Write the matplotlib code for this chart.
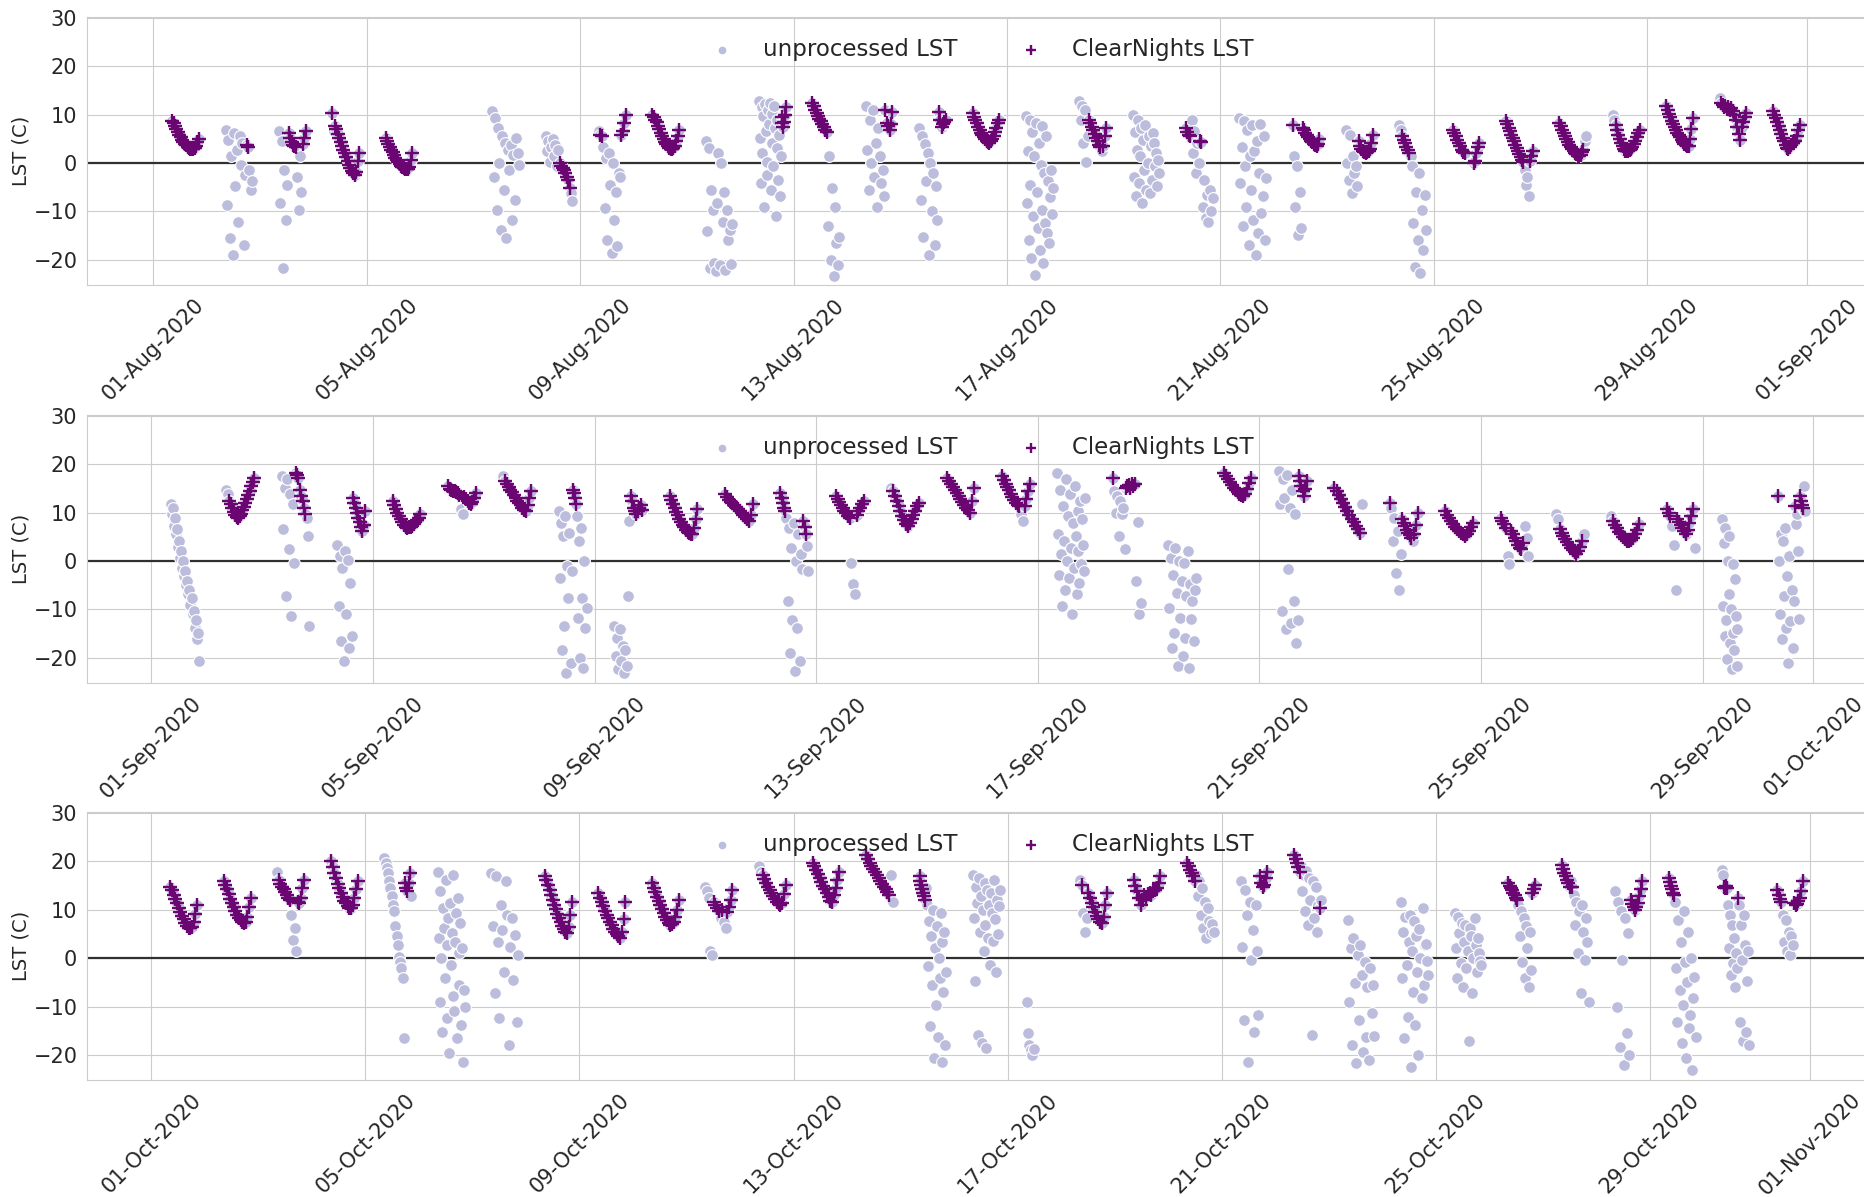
import numpy as np
import pandas as pd
import matplotlib
matplotlib.use('Agg')
import matplotlib.pyplot as plt
import matplotlib.dates as mdates
import seaborn as sns

# nightly LST samples (C), one list per night, spread over the night (08:30 -> 20:30)
# clear = index ranges of samples kept by the ClearNights filter
N = None

aug_days = [1, 2, 3, 4, 5, 7, 8, 9, 10, 11, 12, 13, 14, 15, 16, 17, 18, 19, 20, 21,
            22, 23, 24, 25, 26, 27, 28, 29, 30, 31]
aug_lst = [
    [8.8, 8.2, 7.6, 7.0, 6.4, 5.8, 5.3, 4.8, 4.4, 4.0, 3.7, 3.4, 3.2, 3.0, 2.9, 3.0, 3.1, 3.6, 4.3, 5.0],
    [6.9, -8.6, 4.8, -15.5, 1.4, -19.0, 6.2, -4.8, 2.8, -12.1, 5.5, -0.3, 4.1, -16.9, -2.4, 3.8, 3.4, -1.4, -5.5, -3.8],
    [6.6, -8.3, 4.5, -21.7, -1.4, -11.7, -4.5, 6.2, 5.2, 4.4, 3.8, 3.5, 3.4, -2.8, -9.7, 1.4, -5.9, 4.0, 5.2, 6.6],
    [10.3, 6.6, 7.6, 7.0, 6.0, 5.2, 4.4, 3.6, 2.8, 2.0, 1.2, 0.4, -0.4, -1.0, -1.6, -2.1, -2.4, -1.8, 0.5, 2.0],
    [5.2, 4.6, 4.0, 3.4, 2.8, 2.2, 1.6, 1.1, 0.6, 0.2, -0.2, -0.5, -0.8, -1.0, -1.2, -1.3, -1.2, -0.8, 0.6, 2.0],
    [10.7, -2.8, 9.3, -9.7, 7.2, 0.0, -13.8, 5.5, -5.5, 4.1, -15.5, 2.8, -1.4, 3.8, -11.7, 1.7, -7.6, 5.2, 2.1, -0.3],
    [5.5, 2.4, 4.5, 0.3, 3.4, 5.0, 1.4, 3.8, -0.7, 2.8, 0.0, -0.5, -1.0, -1.4, -2.1, -2.8, -3.4, -5.2, -6.2, -7.9],
    [6.6, 5.9, 5.5, 3.4, -9.3, 1.0, -15.9, 2.1, -4.5, -18.6, 0.0, -11.7, -5.9, -17.2, -2.1, -2.8, 5.9, 6.6, 8.3, 10.0],
    [10.0, 9.6, 9.0, 8.4, 7.7, 7.0, 6.3, 5.6, 5.0, 4.4, 3.9, 3.5, 3.2, 3.0, 2.9, 3.1, 3.5, 4.5, 5.7, 6.9],
    [4.5, -14.1, 3.1, -21.7, -5.5, -9.7, -20.7, -22.4, -8.3, 2.1, -21.0, 0.0, -12.1, -5.9, -22.0, -9.7, -15.9, -13.8,
     -20.9, -12.6],
    [12.8, 5.2, -4.1, 11.5, 2.1, 9.7, -9.0, 12.2, 6.6, 0.3, -2.4, 11.0, 8.0, 12.5, -5.5, 4.1, 10.2, -0.5, 11.8, 7.2,
     -11.0, 3.1, 9.0, -3.4, 5.9, -6.9, 1.4, 9.5, 8.2, 7.5, 8.5, 10.0, 11.5],
    [12.4, 11.7, 11.0, 10.3, 9.7, 9.2, 8.6, 8.0, 7.4, 6.9, 6.4, -13.1, 1.4, -20.0, -5.2, -23.4, -9.0, -16.6, -21.0, -15.2],
    [11.7, 2.8, -5.5, 9.0, 0.0, 11.0, -2.8, 4.2, -9.0, 7.2, 1.4, -4.1, -1.4, -6.9, 11.0, 8.3, 7.6, 6.9, 8.0, 10.5],
    [7.2, -7.6, 5.5, -15.2, 4.0, -3.8, 2.1, -19.0, 0.0, -10.0, -2.1, -16.9, -4.8, -11.7, 10.5, 9.0, 7.5, 8.0, 8.5, 9.0],
    [10.3, 9.6, 8.9, 8.2, 7.5, 6.9, 6.3, 5.8, 5.3, 5.0, 4.6, 4.3, 4.2, 4.5, 5.0, 5.7, 6.5, 7.3, 8.2, 9.0],
    [9.7, -8.3, 2.5, -15.9, 9.0, -4.5, -19.7, 6.5, -11.0, 1.4, -23.1, 8.2, -6.0, -13.4, 4.1, -17.9, -0.3, -9.7, 7.6,
     -20.7, -2.1, -12.4, 5.5, -14.5, -3.8, -16.6, -7.0, -1.5, -10.5, -5.2],
    [12.8, 9.0, 11.7, 4.1, 11.0, 0.3, 5.5, 9.0, 8.3, 7.5, 6.8, 6.0, 5.2, 4.5, 3.8, 3.4, 2.4, 3.6, 5.5, 7.2],
    [10.0, -2.8, 6.5, -6.9, 2.8, 9.0, -4.1, 1.4, 7.2, -8.3, 4.8, -1.4, 7.9, -5.5, 0.0, 5.5, -6.2, 3.5, -3.4, 6.2,
     4.1, -0.7, 2.1, -4.8, 0.7, -2.1],
    [7.2, 6.5, 5.8, 5.5, 9.0, 2.1, 6.6, -2.1, 4.1, 0.0, 4.5, 4.3, -9.0, -3.4, -11.4, -6.6, -12.1, -5.5, -10.0, -7.2],
    [9.3, -4.1, 3.4, -13.1, 8.6, -0.7, -9.0, 6.9, -16.9, 1.4, -5.5, 7.9, -11.7, 2.4, -19.0, 4.5, -14.5, -2.1, 8.0,
     -10.3, -6.9, 5.5, -15.9, -3.0],
    [7.9, 1.4, -9.0, -0.7, -14.8, -5.9, -13.4, 7.3, 6.8, 6.3, 5.8, 5.4, 5.0, 4.6, 4.3, 4.0, 3.7, 3.5, 4.0, 5.0],
    [6.9, 0.0, -3.4, 5.9, -6.2, 1.4, -2.1, -0.7, -4.8, 4.5, 3.6, 3.0, 2.6, 2.3, 2.1, 2.2, 2.5, 3.0, 4.2, 5.9],
    [7.9, 6.9, 5.5, 4.8, 4.1, 3.4, 2.8, 2.1, 1.4, -0.7, -12.4, -21.4, -5.9, -15.9, -2.1, -22.8, -9.7, -17.9, -6.5, -13.8],
    [6.9, 6.3, 5.5, 4.8, 4.1, 3.5, 2.8, 2.3, 2.0, N, N, N, N, N, 0.0, 0.5, 2.0, 3.3, 4.1],
    [8.6, 8.0, 7.3, 6.6, 5.9, 5.2, 4.5, 3.8, 3.1, 2.4, 1.8, 1.2, 0.7, 0.3, -1.4, -4.5, -2.8, -6.9, 0.5, 1.5, 2.4],
    [8.3, 7.6, 6.9, 6.2, 5.5, 4.9, 4.3, 3.8, 3.3, 2.9, 2.5, 2.1, 1.8, 1.5, 1.4, 1.6, 2.2, 2.8, 4.5, 5.5],
    [10.0, 9.0, 7.9, 6.8, 5.8, 4.9, 4.2, 3.6, 3.0, 2.6, 2.4, 2.5, 2.7, 3.0, 3.4, 3.9, 4.6, 5.4, 6.2, 6.9],
    [11.7, 11.0, 10.2, 9.5, 8.8, 8.1, 7.5, 6.9, 6.3, 5.8, 5.3, 4.8, 4.4, 4.0, 3.7, 3.5, 3.6, 5.0, 7.0, 9.3],
    [13.4, 12.4, 12.0, 11.5, 11.8, 11.2, 11.6, 11.0, 11.3, 10.8, 10.0, 9.0, 7.5, 6.0, 4.8, 7.5, 8.5, 9.5, 10.3],
    [10.7, 10.0, 9.3, 8.5, 7.6, 6.8, 6.0, 5.2, 4.5, 3.7, 3.2, 3.0, 3.3, 3.8, 4.2, 4.5, 4.6, 5.5, 6.8, 7.9],
]
aug_clear = [
    [[0, 99]], [[15, 17]], [[7, 13], [17, 20]], [[0, 1], [2, 20]], [[0, 99]], [],
    [[10, 18]], [[1, 3], [16, 20]], [[0, 99]], [], [[27, 33]], [[0, 11]],
    [[14, 20]], [[14, 20]], [[0, 99]], [], [[7, 16], [17, 20]], [],
    [[0, 4], [10, 12]], [], [[0, 1], [7, 20]], [[9, 20]], [[2, 8]], [[0, 99]],
    [[0, 14], [18, 21]], [[0, 18]], [[2, 20]], [[0, 99]], [[1, 19]], [[0, 99]],
]

sep_days = list(range(1, 31))
sep_lst = [
    [11.7, 9.7, 11.0, 7.2, 9.0, 5.5, 6.6, 3.0, 4.1, 0.7, 2.1, -1.4, 0.0, -3.0, -2.1, -5.0, -4.1, -6.9, -5.9, -9.0,
     -7.6, -11.0, -10.3, -13.8, -12.1, -16.2, -14.8, -20.7],
    [14.8, 13.8, 12.4, 11.8, 11.0, 10.2, 9.6, 9.2, 9.0, 9.3, 9.8, 10.5, 11.2, 12.0, 12.8, 13.6, 14.5, 15.5, 16.3, 17.2],
    [17.6, 6.6, 15.2, -7.2, 16.9, 2.4, 13.8, -11.4, 11.7, -0.3, 18.3, 17.8, 17.2, 14.8, 13.5, 12.4, 11.0, 9.7, 9.0,
     5.2, -13.4],
    [3.4, -9.3, 1.0, -16.6, -1.4, -20.7, 2.1, -11.0, 0.3, -17.9, -4.5, -15.5, 13.1, 12.0, 11.0, 10.0, 9.0, 8.0, 7.0,
     6.2, 7.5, 10.3],
    [12.4, 11.6, 10.8, 10.0, 9.3, 8.6, 8.0, 7.5, 7.1, 6.9, 7.0, 7.1, 7.3, 7.6, 8.0, 8.5, 9.0, 9.7],
    [15.5, 15.0, 14.6, 14.4, 14.5, 14.2, 14.0, 13.6, 10.7, 9.7, 13.2, 12.8, 12.4, 12.0, 11.7, 12.2, 13.0, 14.1],
    [17.6, 16.6, 16.0, 15.4, 14.8, 14.2, 13.6, 13.0, 12.5, 12.0, 11.5, 11.0, 10.6, 10.3, 11.5, 13.0, 14.5],
    [10.3, -3.4, 7.9, -18.3, 5.2, -13.4, 9.3, -23.1, -1.0, -7.6, 5.9, -21.0, -2.1, 14.8, 14.0, 13.0, 11.7, 9.3,
     -11.7, 4.1, -20.0, 6.9, -7.6, -22.0, 0.0, -13.8, -9.7],
    [-13.4, -19.7, -15.9, -22.4, -14.1, -20.7, -17.6, -23.1, -18.3, -21.7, -7.2, 8.3, 13.4, 12.4, 11.0, 10.3, 9.7,
     10.3, 11.0, 11.5, 10.5],
    [13.4, 12.6, 11.8, 11.0, 10.2, 9.5, 8.8, 8.1, 7.5, 7.0, 6.5, 6.1, 5.8, 5.5, 5.7, 6.8, 8.6, 10.7],
    [13.8, 13.2, 12.7, 12.3, 12.0, 11.6, 11.2, 10.8, 10.4, 10.0, 9.6, 9.2, 8.8, 8.3, 9.5, 11.7],
    [14.1, 13.0, 12.0, 11.0, 10.3, 9.0, -8.3, 6.9, -19.0, 2.8, -12.1, 7.9, -22.8, 0.0, -13.8, 5.5, -20.7, 1.4, -1.7,
     8.3, 7.0, 5.5, 3.1, -2.1],
    [13.4, 12.8, 12.2, 11.6, 11.0, 10.4, 9.9, 9.4, 9.0, -0.3, -4.8, -6.9, 9.5, 10.3, 11.0, 11.7, 12.4],
    [15.2, 14.5, 13.5, 12.4, 11.3, 10.3, 9.3, 8.4, 7.6, 7.2, 7.8, 8.6, 9.5, 10.4, 11.3, 12.1],
    [17.2, 16.6, 16.0, 15.3, 14.7, 14.0, 13.4, 12.8, 12.2, 11.6, 11.0, 10.5, 10.0, 12.5, 15.2],
    [17.6, 16.8, 16.0, 15.3, 14.6, 13.9, 13.3, 12.7, 12.1, 11.6, 11.4, 9.7, 8.3, 11.4, 12.8, 14.5, 15.9],
    [18.3, 5.5, -2.8, 14.8, 1.4, -9.3, 11.4, 4.1, -5.9, 16.9, 0.0, 9.3, -3.4, 13.8, 2.8, -11.0, 7.9, -1.4, 15.5, 5.2,
     -6.9, 10.3, 2.1, -4.5, 12.4, -0.7, 8.6, 3.4, -2.1, 13.1],
    [17.2, 14.5, 10.0, 13.4, 5.2, 12.4, 9.7, 11.0, 2.4, 15.2, 15.5, 15.8, 15.2, 15.9, 15.5, 15.9, -4.1, 8.0, -11.0, -8.6],
    [3.4, -9.7, 0.7, -17.9, -2.8, -14.8, 2.8, -6.6, -21.7, 0.0, -11.7, -4.1, -19.7, -0.3, -15.9, -7.2, 2.0, -22.0,
     -4.8, -12.0, -8.3, -16.6, -5.9, -3.5],
    [18.3, 17.6, 17.0, 16.4, 15.8, 15.2, 14.7, 14.3, 13.9, 13.6, 13.4, 13.8, 15.0, 16.2, 17.2],
    [18.6, 11.7, -10.3, 16.9, 13.1, -14.1, 17.9, -1.7, 11.0, -12.8, 14.8, -8.3, 9.7, -16.9, -12.1, 17.6, 16.5, 15.5,
     14.5, 13.5, 15.0, 16.5],
    [15.2, 14.4, 13.6, 12.8, 12.0, 11.2, 10.4, 9.6, 8.8, 8.0, 7.3, 6.6, 5.9, 11.7],
    [12.1, 11.0, 4.1, 9.0, -2.4, 6.2, -5.9, 1.4, 8.6, 7.9, 7.2, 6.5, 5.9, 5.3, 4.8, 4.1, 5.5, 7.5, 10.0],
    [10.3, 9.6, 8.9, 8.2, 7.6, 7.0, 6.6, 6.2, 5.8, 5.5, 5.2, 5.5, 6.3, 7.1, 7.9],
    [9.0, 8.3, 7.6, 6.9, 1.0, -0.7, 6.2, 5.5, 4.8, 4.1, 3.4, 2.8, 2.4, 3.8, 7.2, 4.8, 1.0],
    [9.7, 8.6, 6.6, 5.9, 5.2, 4.6, 4.0, 3.4, 2.8, 2.3, 1.8, 1.4, 2.0, 3.0, 4.1, 5.5],
    [9.3, 8.3, 7.5, 6.8, 6.1, 5.5, 5.0, 4.5, 4.2, 4.1, 4.3, 4.8, 5.5, 6.5, 7.6],
    [10.7, 10.0, 9.3, 7.2, 3.4, -5.9, 8.6, 8.0, 7.4, 6.8, 6.2, 5.5, 6.5, 7.9, 9.3, 10.7, 2.8],
    [8.6, -9.3, 3.8, -15.5, 6.9, -12.1, -20.3, 0.0, -6.9, 5.2, -16.9, -10.0, -22.4, -0.7, -14.8, -18.3, -3.8, -11.4,
     -21.7, -14.1, N, N, N, N, N, N, N, N, N, N, N, N, N, N, N, N],
    [13.4, 0.0, -11.0, 5.5, -16.2, 4.1, -7.2, 6.9, -13.8, -3.1, -21.0, 1.0, -12.4, -5.9, -17.9, -8.3, 11.4, 7.6, 9.7,
     2.0, -12.0, 13.4, 12.5, 11.5, 11.0, 15.5, 10.3],
]
sep_clear = [
    [], [[2, 20]], [[10, 18]], [[12, 22]], [[0, 99]], [[0, 8], [10, 18]],
    [[1, 17]], [[13, 17]], [[12, 21]], [[0, 99]], [[0, 99]], [[0, 5], [19, 22]],
    [[0, 9], [12, 17]], [[1, 16]], [[0, 99]], [[0, 11], [13, 17]], [], [[0, 1], [9, 16]],
    [], [[0, 99]], [[15, 22]], [[0, 13]], [[0, 1], [8, 15], [16, 19]], [[0, 99]],
    [[0, 4], [6, 14]], [[2, 15]], [[1, 15]], [[0, 3], [6, 16]], [], [[0, 1], [16, 17], [21, 25]],
]

oct_days = list(range(1, 32))
oct_lst = [
    [14.8, 14.0, 13.1, 12.2, 11.3, 10.4, 9.5, 8.7, 8.0, 7.3, 6.7, 6.3, 6.2, 6.5, 7.5, 9.2, 11.0],
    [15.9, 15.2, 14.2, 13.2, 12.2, 11.3, 10.5, 9.7, 9.0, 8.4, 7.9, 7.5, 7.2, 7.4, 8.5, 10.5, 12.4],
    [17.9, 16.2, 15.4, 14.8, 14.2, 13.6, 13.0, 12.5, 12.0, 9.0, 3.8, 6.2, 1.4, 11.6, 11.4, 12.5, 14.5, 16.2],
    [20.0, 18.8, 17.6, 16.5, 15.4, 14.4, 13.4, 12.6, 11.9, 11.3, 10.8, 10.4, 10.3, 11.0, 12.5, 14.2, 15.9],
    [20.7, 19.7, 18.6, 17.6, 15.9, 14.5, 12.8, 11.0, 9.7, 6.6, 4.5, 2.8, 0.3, -0.7, -2.1, -4.1, -16.6, 15.5, 14.5,
     13.8, 15.5, 17.6, 12.8],
    [17.9, 4.1, -9.0, 13.8, 0.0, -15.2, 10.3, 6.2, -4.1, 16.2, -12.4, 2.8, 8.3, -19.7, 11.4, -1.4, 5.2, -7.9, 17.2,
     -11.0, 3.4, 9.3, -16.6, 12.4, -5.5, 1.0, 7.2, -13.8, 2.1, -21.4, -6.6, -10.0],
    [17.6, 6.6, -7.2, 16.9, 3.4, -12.4, 11.0, 5.9, -2.8, 15.9, 9.0, -17.9, 2.4, 8.3, -4.5, 4.8, -13.1, 0.7],
    [16.9, 16.2, 15.2, 14.1, 13.0, 12.0, 11.0, 10.1, 9.2, 8.3, 7.5, 6.7, 6.0, 5.5, 5.2, 6.5, 9.0, 11.7],
    [13.4, 12.5, 11.6, 10.7, 9.8, 9.0, 8.2, 7.5, 6.8, 6.1, 5.5, 5.0, 4.5, 4.1, 5.5, 8.0, 11.7],
    [15.5, 14.5, 13.6, 12.7, 11.8, 11.0, 10.2, 9.4, 8.6, 7.9, 7.3, 6.9, 7.0, 7.5, 8.5, 10.0, 12.1],
    [14.8, 13.8, 12.4, 1.4, 0.7, 11.7, 11.0, 10.3, 9.7, 8.3, 10.0, 7.5, 6.2, 9.5, 10.5, 12.0, 14.1],
    [19.0, 17.9, 17.2, 16.4, 15.6, 14.8, 14.1, 13.4, 12.8, 12.2, 11.6, 11.2, 11.0, 11.5, 13.3, 15.2],
    [19.7, 19.0, 18.2, 17.4, 16.6, 15.8, 15.0, 14.2, 13.4, 12.6, 11.9, 11.7, 13.0, 14.6, 16.2, 17.9],
    [21.4, 20.5, 19.7, 19.0, 18.4, 17.8, 17.2, 16.6, 16.0, 15.4, 14.8, 14.3, 13.6, 13.1, 17.2, 11.7],
    [16.9, 16.0, 15.2, 14.3, 13.5, 12.8, 12.1, 14.5, 11.0, -1.7, 7.6, -14.1, 4.5, -5.5, 10.0, -20.7, 2.1, -9.7, 6.6,
     -16.2, 0.0, -4.1, 9.3, -21.4, 3.4, -6.9, 5.5, -17.9, -2.8],
    [17.2, 8.3, -4.8, 14.8, 11.4, -15.9, 16.6, 5.5, 12.8, -17.6, 10.0, 1.4, 15.5, 6.9, -18.6, 14.1, 4.1, 11.0, -1.4,
     13.4, 9.3, 3.5, 16.2, 8.0, -2.8, 12.1, 5.0, 10.7, 14.0],
    [-9.0, -15.5, -17.9, -19.0, -20.0, -18.8, N, N, N, N, N, N, N, N, N, N, N, N, N, N],
    [16.2, 15.2, 9.3, 5.5, 8.3, 13.4, 12.4, 11.4, 10.5, 9.6, 8.8, 8.0, 7.4, 7.2, 8.5, 11.0, 13.4],
    [16.2, 15.0, 13.8, 12.5, 11.0, 12.0, 13.0, 12.6, 13.2, 13.5, 13.0, 13.8, 14.0, 14.5, 15.5, 16.9],
    [19.7, 19.0, 18.3, 17.6, 16.9, 15.9, 17.2, 12.8, 15.9, 9.0, 14.5, 6.2, 11.7, 4.1, 10.3, 7.6, 5.2, 7.0, 5.5],
    [15.9, 2.4, -12.8, 14.1, 9.0, -21.4, 11.7, -0.3, 5.9, -15.2, 11.0, 1.4, -11.7, 16.9, 15.5, 14.8, 15.2, 16.5, 17.9],
    [21.4, 20.5, 19.6, 18.8, 17.9, 19.0, 13.8, 17.2, 9.7, 18.0, 6.9, 16.5, 12.1, -15.9, 15.9, 8.3, 14.8, 5.5, 11.0,
     10.3, 12.0],
    [7.9, -9.0, 2.1, -17.9, 4.1, -5.2, -21.7, 0.7, -12.8, 2.8, -3.4, -19.3, -0.7, -16.2, -5.9, -21.0, -2.1, -11.4,
     -5.5, -16.0],
    [11.7, -4.1, 5.5, -16.6, 8.6, -1.4, -12.1, 3.4, 9.0, -22.4, 1.4, -6.9, 7.6, -13.8, 4.5, -2.8, -20.0, 6.0, 0.0,
     -8.3, 10.3, -5.5, 2.8, 3.0, -0.5, -3.5],
    [9.3, 2.1, -4.1, 8.6, 5.2, -1.0, 7.2, -5.9, 3.4, 6.9, -2.1, 1.4, -17.2, 6.2, 4.5, -7.2, 0.0, 8.3, 2.8, -2.8, 4.1,
     1.0, -0.5, -1.5],
    [15.5, 15.0, 14.5, 14.0, 13.5, 13.0, 12.5, 12.1, 11.0, 4.5, 9.7, -0.7, 8.3, -4.1, 6.6, 2.1, -5.9, 5.5, -2.4,
     13.4, 14.3, 15.2],
    [19.3, 18.5, 17.7, 16.9, 16.2, 15.5, 14.8, 15.9, 14.8, 13.1, 6.9, 11.7, 1.0, 9.7, -7.2, 11.0, 5.5, -0.3, 8.3,
     3.4, -9.0],
    [13.8, -10.0, 11.7, -18.3, 9.7, -0.3, -22.0, 8.3, -15.5, 5.2, -20.0, 12.1, 11.2, 10.5, 10.0, 10.6, 11.5, 12.8,
     14.3, 15.9],
    [16.6, 15.8, 15.0, 14.2, 13.5, 13.1, 11.7, -2.1, -13.1, 7.9, -6.6, 3.4, -17.6, -9.7, 9.7, -0.7, -20.7, -5.0, 5.5,
     -14.5, -11.7, 0.0, -23.1, -8.3, -3.8, -16.2],
    [18.3, 17.2, 14.8, 14.6, 15.0, 14.5, 11.0, 2.1, 9.0, -3.4, 6.9, -1.0, 4.1, -5.9, 1.0, -2.1, 12.4, 11.0, -13.1,
     6.9, -0.3, -17.2, 9.0, 2.8, -15.2, -4.8, 1.4, -18.0],
    [13.8, 14.1, 13.0, 12.2, 11.7, 9.0, 3.4, 7.9, 1.4, 5.5, 0.7, 4.5, 2.8, 11.4, 11.0, 11.2, 11.8, 12.5, 13.8, 15.9],
]
oct_clear = [
    [[0, 99]], [[0, 99]], [[1, 9], [13, 18]], [[0, 99]], [[17, 22]], [], [],
    [[0, 99]], [[0, 99]], [[0, 99]], [[5, 9], [10, 11], [13, 17]], [[2, 16]], [[0, 99]],
    [[0, 14]], [[0, 7]], [], [], [[1, 2], [5, 17]], [[0, 99]], [[0, 6]], [[13, 19]],
    [[0, 5], [19, 20]], [], [], [], [[0, 8], [19, 22]], [[0, 7], [8, 9]], [[11, 20]],
    [[0, 6]], [[2, 6], [16, 17]], [[1, 5], [13, 20]],
]

NIGHT_START = 8.5   # hours after midnight (UTC)
NIGHT_LEN = 12.0


def night_frame(year, month, days, lst, clear):
    parts = []
    for day, vals, spans in zip(days, lst, clear):
        v = np.array(vals, dtype=float)
        t0 = pd.Timestamp(year, month, day) + pd.Timedelta(hours=NIGHT_START)
        t = t0 + pd.to_timedelta(np.linspace(0, NIGHT_LEN, len(v)), unit='h')
        ok = np.zeros(len(v), dtype=bool)
        for a, b in spans:
            ok[a:b] = True
        parts.append(pd.DataFrame({'time': t, 'lst': v, 'clear': ok}))
    df = pd.concat(parts, ignore_index=True)
    return df.dropna()


panels = [
    (night_frame(2020, 8, aug_days, aug_lst, aug_clear), '2020-08-01', '2020-09-01', 1.24, 1.08),
    (night_frame(2020, 9, sep_days, sep_lst, sep_clear), '2020-09-01', '2020-10-01', 1.16, 0.93),
    (night_frame(2020, 10, oct_days, oct_lst, oct_clear), '2020-10-01', '2020-11-01', 1.20, 1.02),
]

sns.set_style('whitegrid')
plt.rcParams['font.family'] = ['DejaVu Sans']

fig = plt.figure(figsize=(18.65, 11.97), dpi=100)
bottoms = [0.7619, 0.4294, 0.0977]

for (df, m0, m1, lpad, rpad), b in zip(panels, bottoms):
    ax = fig.add_axes([0.0467, b, 0.9533, 0.2239])
    ax.axhline(0, color='#303030', lw=1.6, zorder=1)
    ax.scatter(df['time'], df['lst'], s=72, color='#bcbddc', edgecolors='white',
               linewidths=0.8, zorder=2, label='unprocessed LST')
    cl = df[df['clear']]
    ax.scatter(cl['time'], cl['lst'], s=95, marker='+', color='#6a0572',
               linewidths=1.7, zorder=3, label='ClearNights LST')

    ax.set_xlim(pd.Timestamp(m0) - pd.Timedelta(days=lpad),
                pd.Timestamp(m1) + pd.Timedelta(days=rpad))
    ax.set_ylim(-25.2, 30.2)
    ax.set_yticks([-20, -10, 0, 10, 20, 30])
    ax.xaxis.set_major_locator(mdates.DayLocator(bymonthday=[1, 5, 9, 13, 17, 21, 25, 29]))
    ax.xaxis.set_major_formatter(mdates.DateFormatter('%d-%b-%Y'))
    ax.tick_params(axis='x', labelrotation=45, labelsize=15)
    ax.tick_params(axis='y', labelsize=15)
    ax.set_ylabel('LST (C)', fontsize=14, labelpad=2)
    ax.set_xlabel('')
    ax.legend(loc='upper center', ncol=2, frameon=False, fontsize=16.5,
              markerscale=0.75, columnspacing=2.2)

fig.savefig('out.png', dpi=100)
